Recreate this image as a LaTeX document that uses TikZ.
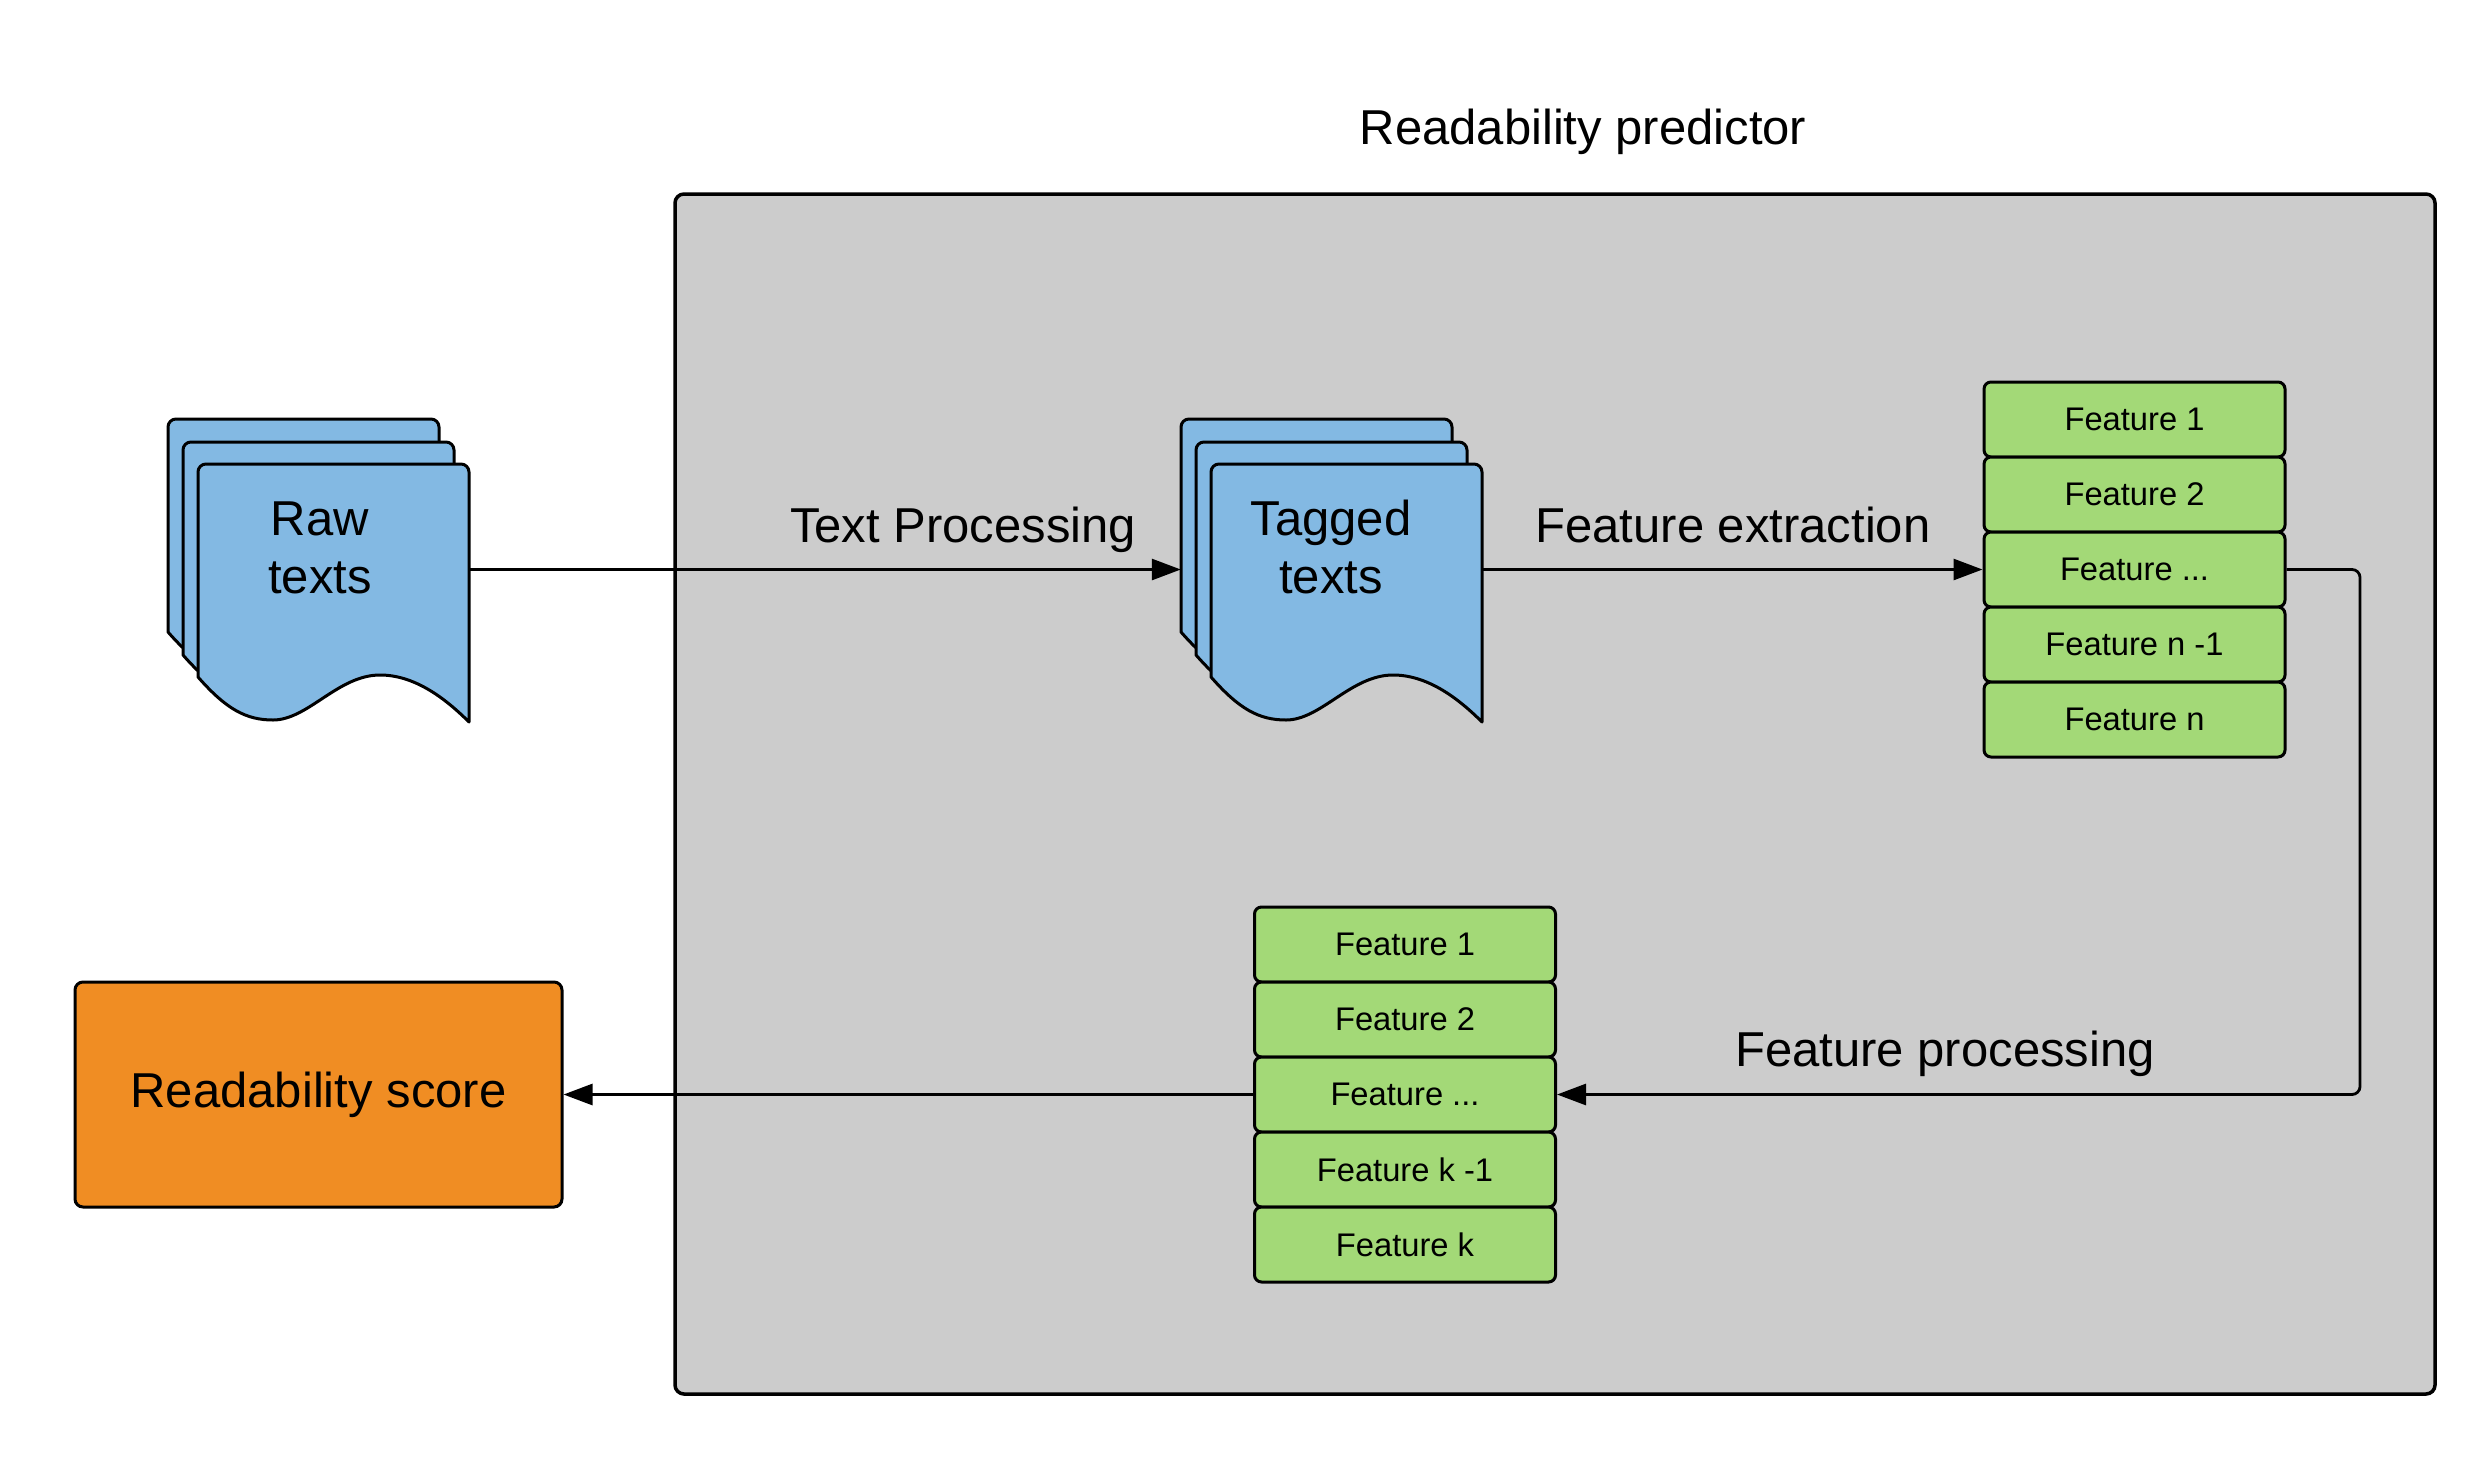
\documentclass[tikz,border=0pt]{standalone}
\usepackage{fontspec}
\setmainfont{Liberation Sans}
\usetikzlibrary{arrows.meta}
\definecolor{panelgray}{HTML}{CCCCCC}
\definecolor{docblue}{HTML}{83B9E3}
\definecolor{featgreen}{HTML}{A3D977}
\definecolor{scoreorange}{HTML}{F08D23}
\tikzset{
  big/.style={font=\fontsize{49}{58}\selectfont},
  featbox/.style={draw, line width=3pt, fill=featgreen, rounded corners=7pt,
    minimum width=301pt, minimum height=75pt, inner sep=0pt,
    font=\fontsize{32.7}{39}\selectfont},
  docpage/.style={draw, line width=3pt, fill=docblue, line join=round},
  conn/.style={line width=2.8pt},
  tip/.style={-{Triangle[length=29pt,width=21pt]}},
  ghost/.style={inner sep=0pt, minimum height=210pt},
  docsheet/.pic={
    \draw[docpage] (0,213) -- (0,8) .. controls (0,3.6) and (3.6,0) .. (8,0)
      -- (263,0) .. controls (267.4,0) and (271,3.6) .. (271,8)
      -- (271,258) .. controls (245,232) and (215,211) .. (182,211)
      .. controls (140,211) and (110,256) .. (75,256)
      .. controls (48,256) and (28,245) .. (0,213) -- cycle;
  }
}
\begin{document}
\begin{tikzpicture}[x=1pt,y=-1pt]
\useasboundingbox (0,0) rectangle (2475,1470);
\fill[white] (0,0) rectangle (2475,1470);

% panel
\node[draw, line width=3.5pt, fill=panelgray, rounded corners=9pt,
  minimum width=1760pt, minimum height=1200pt, inner sep=0pt] (panel) at (1555,794) {};
\node[big, anchor=base] (title) at (1583,144) {Readability predictor};

% raw texts documents
\pic at (168,419) {docsheet};
\pic at (183,442) {docsheet};
\pic at (198,464) {docsheet};
\node[ghost, minimum width=271pt] (raw) at (333.5,569.5) {};
\node[big, align=center, anchor=base] (rawlabel) at (320,593) {Raw\\texts};

% tagged texts documents
\pic at (1181,419) {docsheet};
\pic at (1196,442) {docsheet};
\pic at (1211,464) {docsheet};
\node[ghost, minimum width=301pt] (tagged) at (1331.5,569.5) {};
\node[big, align=center, anchor=base] (taggedlabel) at (1331,593) {Tagged\\texts};

% extracted features
\node[featbox] (fa1) at (2134.5,419.5) {Feature 1};
\node[featbox] (fa2) at (2134.5,494.5) {Feature 2};
\node[featbox] (fa3) at (2134.5,569.5) {Feature ...};
\node[featbox] (fa4) at (2134.5,644.5) {Feature n -1};
\node[featbox] (fa5) at (2134.5,719.5) {Feature n};

% processed features
\node[featbox] (fb1) at (1405,944.5) {Feature 1};
\node[featbox] (fb2) at (1405,1019.5) {Feature 2};
\node[featbox] (fb3) at (1405,1094.5) {Feature ...};
\node[featbox] (fb4) at (1405,1169.5) {Feature k -1};
\node[featbox] (fb5) at (1405,1244.5) {Feature k};

% score
\node[draw, line width=3pt, fill=scoreorange, rounded corners=8pt,
  minimum width=487pt, minimum height=225pt, inner sep=0pt, big] (score) at (318.5,1094.5) {Readability score};

% connectors
\draw[conn, tip] (raw.east) -- (tagged.west);
\node[big, anchor=base] (lbltp) at (963,542) {Text Processing};
\draw[conn, tip] (tagged.east) -- (fa3.west);
\node[big, anchor=base] (lblfe) at (1733,542) {Feature extraction};
\coordinate (bend) at (2360,569.5);
\draw[conn, tip, rounded corners=8pt] (fa3.east) -- (bend) |- (fb3.east);
\node[big, anchor=base] (lblfp) at (1945,1066) {Feature processing};
\draw[conn, tip] (fb3.west) -- (score.east);
\end{tikzpicture}
\end{document}
